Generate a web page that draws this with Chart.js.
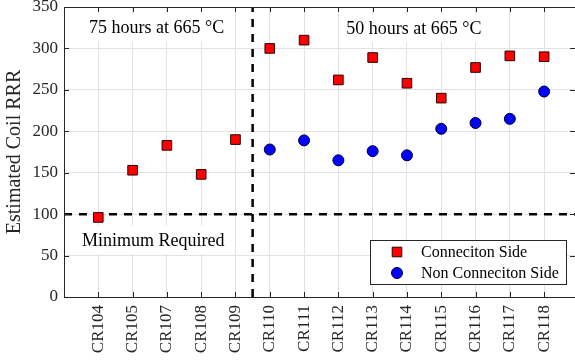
<!DOCTYPE html>
<html>
<head>
<meta charset="utf-8">
<script src="https://cdn.jsdelivr.net/npm/chart.js@4.4.0/dist/chart.umd.min.js"></script>
<style>
  html, body { margin: 0; padding: 0; background: #fff; }
  #wrap { width: 575px; height: 364px; }
</style>
</head>
<body>
<div id="wrap"><canvas id="rrr-chart"></canvas></div>
<script>
// coils in test order (CR106 was not measured)
const coils = ['CR104', 'CR105', 'CR107', 'CR108', 'CR109', 'CR110', 'CR111',
               'CR112', 'CR113', 'CR114', 'CR115', 'CR116', 'CR117', 'CR118'];
const connSide    = [96, 153, 183, 148, 190, 300, 310, 262, 289, 258, 240, 277, 291, 290];
const nonConnSide = [null, null, null, null, null, 178, 189, 165, 176, 171, 203, 210, 215, 248];
const yMin = 0, yMax = 350, yStep = 50;
const minRequired = 100;
const batchSplit = 4.5;   // between CR109 and CR110
const xMin = -1, xMax = 13.9;

const FONT = "'Liberation Serif', 'Times New Roman', serif";
const AXIS = '#262626';

const toPoints = arr => arr.map((v, i) => v == null ? null : { x: i, y: v }).filter(p => p);

// labels with a white box behind them, drawn over the grid
const notes = [
    { text: '75 hours at 665 °C', x: 1.7, y: 325 },
    { text: '50 hours at 665 °C', x: 9.2, y: 324 },
    { text: 'Minimum Required',   x: 1.6, y: 69 }
];

const notesPlugin = {
    id: 'notes',
    beforeDatasetsDraw(chart) {
        const { ctx, scales: { x, y } } = chart;
        ctx.save();
        ctx.textAlign = 'center';
        ctx.textBaseline = 'middle';
        notes.forEach(n => {
            ctx.font = '18px ' + FONT;
            const px = x.getPixelForValue(n.x), py = y.getPixelForValue(n.y);
            const w = ctx.measureText(n.text).width + 14;
            ctx.fillStyle = '#fff';
            ctx.fillRect(px - w / 2, py - 14, w, 28);
            ctx.fillStyle = '#000';
            ctx.fillText(n.text, px, py + 1);
        });
        ctx.restore();
    }
};

// MATLAB-like box: top edge and inward tick marks
const boxPlugin = {
    id: 'box',
    afterDraw(chart) {
        const { ctx, chartArea: a, scales: { x, y } } = chart;
        ctx.save();
        ctx.strokeStyle = AXIS;
        ctx.lineWidth = 1;
        ctx.beginPath();
        ctx.moveTo(a.left, a.top + 0.5);
        ctx.lineTo(a.right, a.top + 0.5);
        x.ticks.forEach(t => {
            const px = Math.round(x.getPixelForValue(t.value)) + 0.5;
            ctx.moveTo(px, a.bottom); ctx.lineTo(px, a.bottom - 5);
            ctx.moveTo(px, a.top); ctx.lineTo(px, a.top + 5);
        });
        y.ticks.forEach(t => {
            const py = Math.round(y.getPixelForValue(t.value)) + 0.5;
            ctx.moveTo(a.left, py); ctx.lineTo(a.left + 5, py);
            ctx.moveTo(a.right, py); ctx.lineTo(a.right - 5, py);
        });
        ctx.stroke();
        ctx.restore();
    }
};

// legend box in the lower right corner
const legendPlugin = {
    id: 'cornerLegend',
    afterDraw(chart) {
        const { ctx } = chart;
        const bx = 370.5, by = 240.5, bw = 196, bh = 44;
        ctx.save();
        ctx.fillStyle = '#fff';
        ctx.fillRect(bx, by, bw, bh);
        ctx.strokeStyle = AXIS;
        ctx.lineWidth = 1;
        ctx.strokeRect(bx, by, bw, bh);
        const rows = [chart.data.datasets[0], chart.data.datasets[1]];
        rows.forEach((ds, i) => {
            const cy = 252 + i * 21;
            ctx.fillStyle = ds.backgroundColor;
            ctx.strokeStyle = ds.borderColor;
            ctx.lineWidth = ds.borderWidth;
            ctx.beginPath();
            if (ds.pointStyle === 'rect') {
                const s = Math.SQRT1_2 * ds.pointRadius;
                ctx.rect(397 - s, cy - s, 2 * s, 2 * s);
            } else {
                ctx.arc(397, cy, ds.pointRadius, 0, Math.PI * 2);
            }
            ctx.fill();
            ctx.stroke();
            ctx.font = '16px ' + FONT;
            ctx.textAlign = 'left';
            ctx.textBaseline = 'middle';
            ctx.fillStyle = '#000';
            ctx.fillText(ds.label, 421, cy + 1);
        });
        ctx.restore();
    }
};

new Chart(document.getElementById('rrr-chart'), {
    type: 'scatter',
    data: {
        datasets: [
            { label: 'Conneciton Side', data: toPoints(connSide), pointStyle: 'rect', pointRadius: 6.8,
              backgroundColor: '#ff0000', borderColor: '#2a0000', borderWidth: 1 },
            { label: 'Non Conneciton Side', data: toPoints(nonConnSide), pointStyle: 'circle', pointRadius: 5.5,
              backgroundColor: '#0000ff', borderColor: '#00002a', borderWidth: 1 },
            { label: 'min', type: 'line', data: [{ x: xMin, y: minRequired }, { x: xMax, y: minRequired }],
              borderColor: '#000', borderWidth: 2.5, borderDash: [8, 7], pointRadius: 0 },
            { label: 'split', type: 'line', data: [{ x: batchSplit, y: yMin }, { x: batchSplit, y: yMax }],
              borderColor: '#000', borderWidth: 2.5, borderDash: [8, 7], pointRadius: 0 }
        ]
    },
    options: {
        responsive: true,
        maintainAspectRatio: false,
        animation: false,
        devicePixelRatio: 1,
        // the plot runs right up to the canvas edge
        layout: { autoPadding: false, padding: { top: 7, right: 0, left: 0, bottom: 0 } },
        plugins: { legend: { display: false }, tooltip: { enabled: false } },
        scales: {
            x: {
                type: 'linear', min: xMin, max: xMax,
                afterFit: s => { s.height = 67; s.paddingLeft = 0; s.paddingRight = 0; },
                ticks: {
                    stepSize: 1, includeBounds: false, autoSkip: false,
                    minRotation: 90, maxRotation: 90, padding: 8,
                    color: AXIS, font: { family: FONT, size: 17 },
                    callback: v => coils[v] || ''
                },
                grid: { color: '#e2e2e2', drawTicks: false },
                border: { color: AXIS }
            },
            y: {
                min: yMin, max: yMax,
                afterFit: s => { s.width = 64; s.paddingTop = 0; s.paddingBottom = 0; },
                ticks: { stepSize: yStep, padding: 6, color: AXIS, font: { family: FONT, size: 17 } },
                grid: { color: '#e2e2e2', drawTicks: false },
                border: { color: AXIS },
                title: { display: true, text: 'Estimated Coil RRR', color: AXIS,
                         font: { family: FONT, size: 20 }, padding: { top: 3, bottom: 4 } }
            }
        }
    },
    plugins: [notesPlugin, boxPlugin, legendPlugin]
});
</script>
</body>
</html>
